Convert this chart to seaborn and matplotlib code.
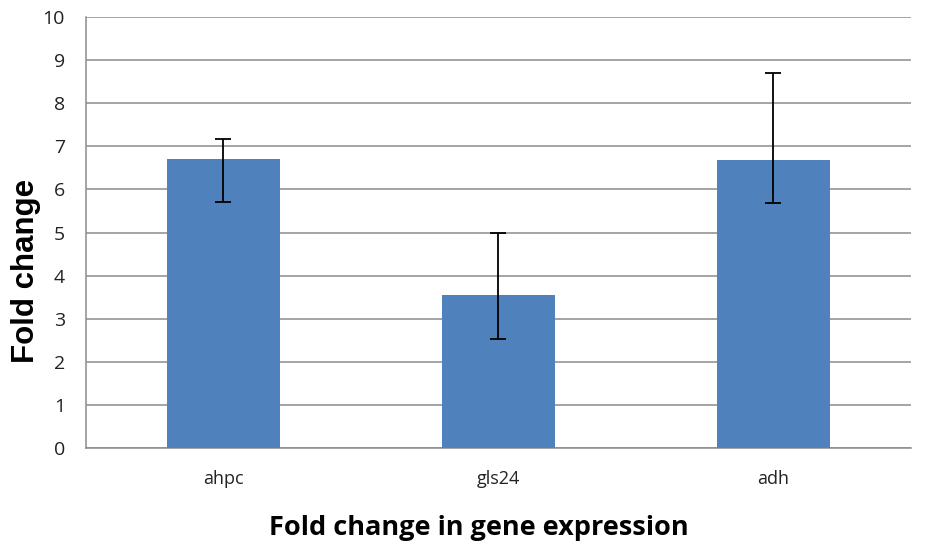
import numpy as np
import pandas as pd
import seaborn as sns
import matplotlib.pyplot as plt

# --------------------------------------------------
# DATA
# --------------------------------------------------
genes = ["ahpc", "gls24", "adh"]
fold_change = [6.70, 3.56, 6.68]
err_upper = [7.18, 4.98, 8.70]
err_lower = [5.71, 2.54, 5.68]

df = pd.DataFrame({"gene": genes, "fold": fold_change})

# --------------------------------------------------
# PLOT
# --------------------------------------------------
sns.set_theme(style="white")
plt.rcParams["font.family"] = ["Open Sans", "DejaVu Sans"]

fig = plt.figure(figsize=(9.25, 5.46), dpi=100)
ax = fig.add_axes([0.0927, 0.179, 0.892, 0.790])

sns.barplot(data=df, x="gene", y="fold", color="#4F81BD", saturation=1,
            width=0.41, linewidth=0, ax=ax, zorder=3)

pos = np.arange(len(genes))
yerr = [np.array(fold_change) - np.array(err_lower),
        np.array(err_upper) - np.array(fold_change)]
ax.errorbar(pos, fold_change, yerr=yerr, fmt="none", ecolor="black",
            elinewidth=1.3, capsize=6, capthick=1.3, zorder=4)

ax.set_xlim(-0.5, len(genes) - 0.5)
ax.set_ylim(0, 10)
ax.set_yticks(range(0, 11))
ax.yaxis.grid(True, color="#8c8c8c", linewidth=1.1, zorder=0)
ax.set_axisbelow(True)

for side in ["top", "right"]:
    ax.spines[side].set_visible(False)
for side in ["left", "bottom"]:
    ax.spines[side].set_color("#8c8c8c")
    ax.spines[side].set_linewidth(1.1)

# tick marks between categories like the original
ax.set_xticks(pos)
ax.set_xticks(np.arange(-0.5, len(genes)), minor=True)
ax.tick_params(axis="x", which="major", length=0, pad=16, labelsize=13,
               labelcolor="#222222")
ax.tick_params(axis="x", which="minor", length=6, color="#8c8c8c", width=1)
ax.tick_params(axis="y", length=7, color="#8c8c8c", width=1, labelsize=14,
               pad=8, labelcolor="#222222")

ax.set_xlabel("Fold change in gene expression", fontsize=19.5, fontweight="bold",
              color="black", va="center")
ax.set_ylabel("Fold change", fontsize=22.5, fontweight="bold",
              family=["Liberation Sans", "DejaVu Sans"], color="black", va="center")
ax.xaxis.set_label_coords(0.4766, -0.185)
ax.yaxis.set_label_coords(-0.073, 0.411)

fig.savefig("out.png", dpi=100)
